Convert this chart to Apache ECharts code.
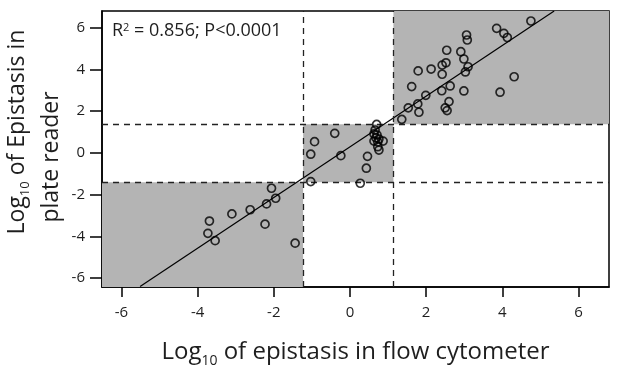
<!DOCTYPE html>
<html>
<head>
<meta charset="utf-8">
<script src="https://cdn.jsdelivr.net/npm/echarts@6/dist/echarts.min.js"></script>
<style>
  html, body { margin: 0; padding: 0; background: #fff; }
  #chart { width: 617px; height: 378px; }
</style>
</head>
<body>
<div id="chart"></div>
<script>
// flow cytometer (x) vs plate reader (y), log10 epistasis
const flowX = [
  1.79, 2.13, 2.42, 2.42, 2.52, 2.54, 2.91, 2.99, 3.06, 3.08,
  3.10, 3.03, 3.85, 4.04, 4.13, 4.75, 4.31, 1.62, 1.99, 2.41,
  2.63, 2.99, 3.94, 1.53, 1.78, 1.81, 2.60, 2.50, 2.55, 1.36,
  -0.40, -0.93, -1.03, -0.24, -1.03, 0.27, 0.46, 0.43,
  0.70, 0.66, 0.63, 0.71, 0.68, 0.76, 0.63, 0.73, 0.87, 0.73, 0.76,
  -2.06, -1.95, -2.19, -2.62, -3.10, -3.69, -3.73, -3.54, -2.23, -1.44
];
const plateY = [
  3.93, 4.02, 3.77, 4.21, 4.32, 4.92, 4.85, 4.50, 5.65, 5.41,
  4.13, 3.88, 5.97, 5.73, 5.53, 6.32, 3.65, 3.18, 2.76, 2.98,
  3.21, 2.97, 2.91, 2.16, 2.35, 1.95, 2.46, 2.16, 2.03, 1.61,
  0.94, 0.54, -0.06, -0.13, -1.37, -1.45, -0.16, -0.73,
  1.37, 1.10, 0.91, 0.86, 0.72, 0.67, 0.57, 0.53, 0.57, 0.30, 0.14,
  -1.69, -2.17, -2.44, -2.72, -2.92, -3.26, -3.85, -4.20, -3.41, -4.32
];

// regression line ends, threshold lines
const fitLine = [[-5.51, -6.40], [5.36, 6.80]];
const xCut = [-1.23, 1.14];
const yCut = [-1.40, 1.37];

const tickVals = [-6, -4, -2, 0, 2, 4, 6];
const xMin = -6.51, xMax = 6.80;
const yMin = -6.42, yMax = 6.80;

const points = flowX.map((x, i) => [x, plateY[i]]);

const FONT = 'Open Sans';
const INK = '#1e1e1e';

const chart = echarts.init(document.getElementById('chart'));

const option = {
    animation: false,
    backgroundColor: '#fff',
    textStyle: { fontFamily: FONT },
    title: {
        text: 'R{sup|2} = 0.856; P<0.0001',
        left: 107,
        top: 17,
        textStyle: {
            fontFamily: FONT,
            fontSize: 18,
            fontWeight: 'normal',
            color: INK,
            rich: {
                sup: { fontSize: 11, verticalAlign: 'top', lineHeight: 14, color: INK, fontFamily: FONT }
            }
        }
    },
    grid: {
        left: 102, top: 11, right: 8, bottom: 91,
        show: true,
        borderColor: '#000',
        borderWidth: 1.5,
        backgroundColor: 'transparent'
    },
    xAxis: {
        type: 'value',
        min: xMin, max: xMax,
        splitLine: { show: false },
        axisLine: { show: true, onZero: false, lineStyle: { color: '#000', width: 1.5 } },
        axisTick: {
            show: true, length: 10, inside: false,
            customValues: tickVals,
            lineStyle: { color: '#000', width: 1.5 }
        },
        axisLabel: {
            customValues: tickVals,
            margin: 18,
            fontSize: 15,
            color: INK,
            fontFamily: FONT
        },
        name: '{a|Log}{s|10}{a| of epistasis in flow cytometer}',
        nameLocation: 'middle',
        nameGap: 49,
        nameTextStyle: {
            rich: {
                a: { fontSize: 24, fontFamily: FONT, color: INK, lineHeight: 32 },
                s: { fontSize: 14, fontFamily: FONT, color: INK, lineHeight: 14, verticalAlign: 'bottom' }
            }
        }
    },
    yAxis: {
        type: 'value',
        min: yMin, max: yMax,
        splitLine: { show: false },
        axisLine: { show: true, onZero: false, lineStyle: { color: '#000', width: 1.5 } },
        axisTick: {
            show: true, length: 12, inside: false,
            customValues: tickVals,
            lineStyle: { color: '#000', width: 1.5 }
        },
        axisLabel: {
            customValues: tickVals,
            margin: 17,
            fontSize: 15,
            color: INK,
            fontFamily: FONT
        }
    },
    graphic: [
        {
            type: 'text',
            x: 17, y: 132,
            rotation: Math.PI / 2,
            style: {
                text: '{a|Log}{s|10}{a| of Epistasis in}',
                align: 'center',
                verticalAlign: 'middle',
                rich: {
                    a: { fontSize: 23, fontFamily: FONT, fill: INK, lineHeight: 30 },
                    s: { fontSize: 13, fontFamily: FONT, fill: INK, lineHeight: 14, verticalAlign: 'bottom' }
                }
            }
        },
        {
            type: 'text',
            x: 51, y: 157,
            rotation: Math.PI / 2,
            style: {
                text: 'plate reader',
                align: 'center',
                verticalAlign: 'middle',
                fontSize: 23,
                fontFamily: FONT,
                fill: INK
            }
        }
    ],
    series: [
        {
            name: 'fit',
            type: 'line',
            data: fitLine,
            showSymbol: false,
            silent: true,
            z: 3,
            lineStyle: { color: '#000', width: 1.2 },
            markArea: {
                silent: true,
                itemStyle: { color: '#b4b4b4' },
                data: [
                    [{ coord: [xMin, yMin] }, { coord: [xCut[0], yCut[0]] }],
                    [{ coord: [xCut[0], yCut[0]] }, { coord: [xCut[1], yCut[1]] }],
                    [{ coord: [xCut[1], yCut[1]] }, { coord: [xMax, yMax] }]
                ]
            },
            markLine: {
                silent: true,
                symbol: 'none',
                label: { show: false },
                lineStyle: { color: '#222', width: 1.3, type: [6, 5] },
                data: [
                    { xAxis: xCut[0] }, { xAxis: xCut[1] },
                    { yAxis: yCut[0] }, { yAxis: yCut[1] }
                ]
            }
        },
        {
            name: 'strains',
            type: 'scatter',
            data: points,
            symbol: 'circle',
            symbolSize: 8,
            z: 5,
            itemStyle: { color: 'rgba(0,0,0,0)', borderColor: '#000', borderWidth: 1.7 }
        }
    ]
};

chart.setOption(option);
</script>
</body>
</html>
